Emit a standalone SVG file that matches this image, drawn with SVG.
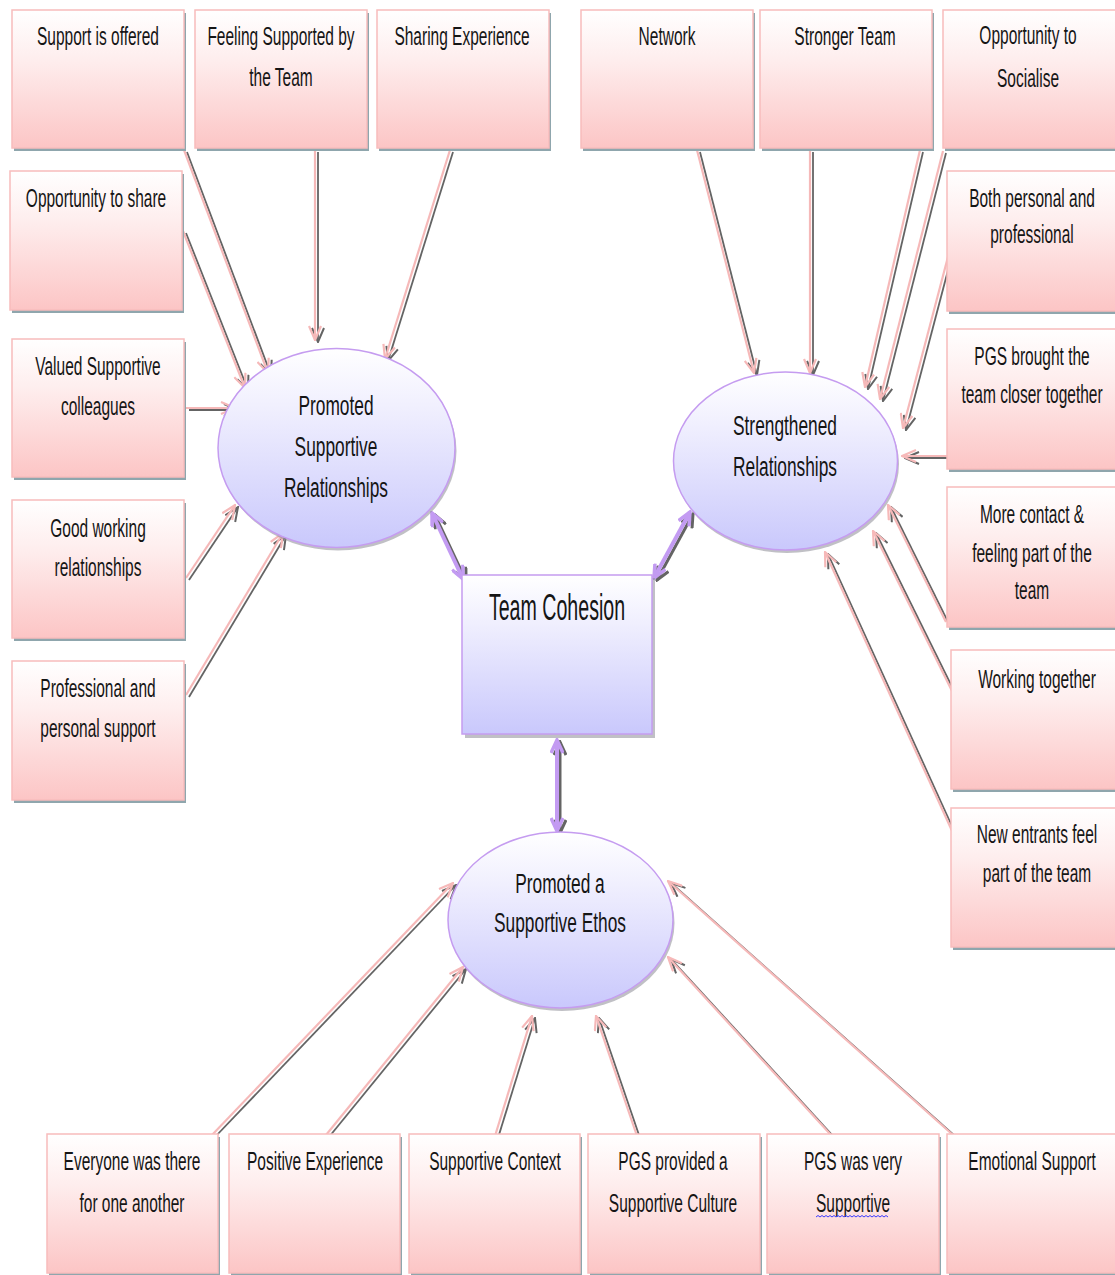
<svg xmlns="http://www.w3.org/2000/svg" width="1115" height="1275" viewBox="0 0 1115 1275">
  <defs>
    <linearGradient id="g-box" x1="0" y1="0" x2="0" y2="1">
      <stop offset="0" stop-color="#ffffff"/>
      <stop offset="0.35" stop-color="#feeeee"/>
      <stop offset="1" stop-color="#fcc5c5"/>
    </linearGradient>
    <linearGradient id="g-theme" x1="0" y1="0" x2="0" y2="1">
      <stop offset="0" stop-color="#ffffff"/>
      <stop offset="0.3" stop-color="#f0effe"/>
      <stop offset="1" stop-color="#c9c8fc"/>
    </linearGradient>
    <marker id="ah-pink" viewBox="0 0 16 14" refX="15" refY="7" markerWidth="16" markerHeight="14" markerUnits="userSpaceOnUse" orient="auto">
      <path d="M1,1 L15,7 L1,13" fill="none" stroke="#f6b9b9" stroke-width="2.2"/>
    </marker>
    <marker id="ah-grey" viewBox="0 0 16 14" refX="15" refY="7" markerWidth="16" markerHeight="14" markerUnits="userSpaceOnUse" orient="auto">
      <path d="M1,1 L15,7 L1,13" fill="none" stroke="#646464" stroke-width="2"/>
    </marker>
    <marker id="ah-purple" viewBox="0 0 16 14" refX="14" refY="7" markerWidth="16" markerHeight="14" markerUnits="userSpaceOnUse" orient="auto-start-reverse">
      <path d="M1,1 L14,7 L1,13" fill="none" stroke="#c39bf2" stroke-width="3.5"/>
    </marker>
    <marker id="ah-purple-grey" viewBox="0 0 16 14" refX="14" refY="7" markerWidth="16" markerHeight="14" markerUnits="userSpaceOnUse" orient="auto-start-reverse">
      <path d="M1,1 L14,7 L1,13" fill="none" stroke="#646464" stroke-width="3"/>
    </marker>
  </defs>
  <style>
    .box { fill: url(#g-box); stroke: #f8bcbc; stroke-width: 1.5; }
    .box-shadow { fill: #8fa6ad; }
    .theme { fill: url(#g-theme); stroke: #c59cf0; stroke-width: 1.5; }
    .theme-shadow { fill: #8d8d95; opacity: 0.55; }
    text { font-family: "Liberation Sans", Arial, sans-serif; fill: #151515; text-anchor: middle; }
    .t { font-size: 25px; }
    .te { font-size: 27.5px; }
    .tc { font-size: 37px; }
    .link { fill: none; stroke: #f6b9b9; stroke-width: 2.2; marker-end: url(#ah-pink); }
    .link-shadow { fill: none; stroke: #646464; stroke-width: 1.8; marker-end: url(#ah-grey); }
    .bi { fill: none; stroke: #c39bf2; stroke-width: 4; marker-start: url(#ah-purple); marker-end: url(#ah-purple); }
    .bi-shadow { fill: none; stroke: #646464; stroke-width: 3; marker-start: url(#ah-purple-grey); marker-end: url(#ah-purple-grey); }
  </style>

  <rect width="1115" height="1275" fill="#ffffff"/>

  <!-- arrows into the three themes and between themes and core -->
  <g id="connectors">
    <g transform="translate(3,2)">
      <path class="link-shadow" d="M184,150 L268,373"/>
      <path class="link-shadow" d="M183,231 L245,388"/>
      <path class="link-shadow" d="M315,150 L315,340"/>
      <path class="link-shadow" d="M450,150 L385,359"/>
      <path class="link-shadow" d="M186,408 L235,408"/>
      <path class="link-shadow" d="M186,578 L235,505"/>
      <path class="link-shadow" d="M186,695 L283,533"/>
      <path class="link-shadow" d="M697,150 L754,373"/>
      <path class="link-shadow" d="M810,150 L810,373"/>
      <path class="link-shadow" d="M920,150 L865,387"/>
      <path class="link-shadow" d="M943,151 L880,399"/>
      <path class="link-shadow" d="M949,253 L903,428"/>
      <path class="link-shadow" d="M948,456 L902,456"/>
      <path class="link-shadow" d="M946,622 L888,505"/>
      <path class="link-shadow" d="M953,693 L873,531"/>
      <path class="link-shadow" d="M953,833 L825,552"/>
      <path class="link-shadow" d="M212,1135 L453,883"/>
      <path class="link-shadow" d="M326,1135 L463,967"/>
      <path class="link-shadow" d="M495,1136 L532,1016"/>
      <path class="link-shadow" d="M637,1136 L596,1016"/>
      <path class="link-shadow" d="M831,1135 L668,957"/>
      <path class="link-shadow" d="M953,1135 L668,881"/>
      <path class="bi-shadow" d="M432,513 L463,579"/>
      <path class="bi-shadow" d="M690,512 L654,578"/>
      <path class="bi-shadow" d="M557,740 L557,831"/>
    </g>
    <g>
      <path class="link" d="M184,150 L268,373"/>
      <path class="link" d="M183,231 L245,388"/>
      <path class="link" d="M315,150 L315,340"/>
      <path class="link" d="M450,150 L385,359"/>
      <path class="link" d="M186,408 L235,408"/>
      <path class="link" d="M186,578 L235,505"/>
      <path class="link" d="M186,695 L283,533"/>
      <path class="link" d="M697,150 L754,373"/>
      <path class="link" d="M810,150 L810,373"/>
      <path class="link" d="M920,150 L865,387"/>
      <path class="link" d="M943,151 L880,399"/>
      <path class="link" d="M949,253 L903,428"/>
      <path class="link" d="M948,456 L902,456"/>
      <path class="link" d="M946,622 L888,505"/>
      <path class="link" d="M953,693 L873,531"/>
      <path class="link" d="M953,833 L825,552"/>
      <path class="link" d="M212,1135 L453,883"/>
      <path class="link" d="M326,1135 L463,967"/>
      <path class="link" d="M495,1136 L532,1016"/>
      <path class="link" d="M637,1136 L596,1016"/>
      <path class="link" d="M831,1135 L668,957"/>
      <path class="link" d="M953,1135 L668,881"/>
      <path class="bi" d="M432,513 L463,579"/>
      <path class="bi" d="M690,512 L654,578"/>
      <path class="bi" d="M557,740 L557,831"/>
    </g>
  </g>

  <!-- core -->
  <g id="team-cohesion">
    <rect class="theme-shadow" x="465" y="578" width="190" height="160"/>
    <rect class="theme" x="462" y="575" width="190" height="159"/>
    <text class="tc" transform="translate(557,620) scale(0.53,1)">Team Cohesion</text>
  </g>

  <!-- themes -->
  <g id="promoted-supportive-relationships">
    <ellipse class="theme-shadow" cx="338" cy="451" rx="118.5" ry="99.5"/>
    <ellipse class="theme" cx="336.5" cy="448" rx="118.5" ry="99.5"/>
    <text class="te" transform="translate(336,415) scale(0.63,1)">Promoted</text>
    <text class="te" transform="translate(336,456) scale(0.63,1)">Supportive</text>
    <text class="te" transform="translate(336,497) scale(0.63,1)">Relationships</text>
  </g>
  <g id="strengthened-relationships">
    <ellipse class="theme-shadow" cx="787" cy="464" rx="112" ry="89"/>
    <ellipse class="theme" cx="785.5" cy="461" rx="112" ry="89"/>
    <text class="te" transform="translate(785,435) scale(0.63,1)">Strengthened</text>
    <text class="te" transform="translate(785,476) scale(0.63,1)">Relationships</text>
  </g>
  <g id="promoted-supportive-ethos">
    <ellipse class="theme-shadow" cx="562" cy="923" rx="112.5" ry="88"/>
    <ellipse class="theme" cx="560.5" cy="920" rx="112.5" ry="88"/>
    <text class="te" transform="translate(560,893) scale(0.63,1)">Promoted a</text>
    <text class="te" transform="translate(560,932) scale(0.63,1)">Supportive Ethos</text>
  </g>

  <!-- codes: top row -->
  <g id="support-is-offered">
    <rect class="box-shadow" x="14" y="13" width="172" height="138"/>
    <rect class="box" x="12" y="10" width="172" height="138"/>
    <text class="t" transform="translate(98,45) scale(0.62,1)">Support is offered</text>
  </g>
  <g id="feeling-supported">
    <rect class="box-shadow" x="197" y="13" width="172" height="138"/>
    <rect class="box" x="195" y="10" width="172" height="138"/>
    <text class="t" transform="translate(281,45) scale(0.62,1)">Feeling Supported by</text>
    <text class="t" transform="translate(281,86) scale(0.62,1)">the Team</text>
  </g>
  <g id="sharing-experience">
    <rect class="box-shadow" x="379" y="13" width="172" height="138"/>
    <rect class="box" x="377" y="10" width="172" height="138"/>
    <text class="t" transform="translate(462,45) scale(0.62,1)">Sharing Experience</text>
  </g>
  <g id="network">
    <rect class="box-shadow" x="583" y="13" width="172" height="138"/>
    <rect class="box" x="581" y="10" width="172" height="138"/>
    <text class="t" transform="translate(667,45) scale(0.62,1)">Network</text>
  </g>
  <g id="stronger-team">
    <rect class="box-shadow" x="762" y="13" width="172" height="138"/>
    <rect class="box" x="760" y="10" width="172" height="138"/>
    <text class="t" transform="translate(845,45) scale(0.62,1)">Stronger Team</text>
  </g>
  <g id="opportunity-to-socialise">
    <rect class="box-shadow" x="945" y="13" width="175" height="138"/>
    <rect class="box" x="943" y="10" width="175" height="138"/>
    <text class="t" transform="translate(1028,44) scale(0.62,1)">Opportunity to</text>
    <text class="t" transform="translate(1028,87) scale(0.62,1)">Socialise</text>
  </g>

  <!-- codes: left column -->
  <g id="opportunity-to-share">
    <rect class="box-shadow" x="12" y="174" width="172" height="139"/>
    <rect class="box" x="10" y="171" width="172" height="139"/>
    <text class="t" transform="translate(96,207) scale(0.62,1)">Opportunity to share</text>
  </g>
  <g id="valued-supportive-colleagues">
    <rect class="box-shadow" x="14" y="342" width="172" height="138"/>
    <rect class="box" x="12" y="339" width="172" height="138"/>
    <text class="t" transform="translate(98,375) scale(0.62,1)">Valued Supportive</text>
    <text class="t" transform="translate(98,415) scale(0.62,1)">colleagues</text>
  </g>
  <g id="good-working-relationships">
    <rect class="box-shadow" x="14" y="503" width="172" height="138"/>
    <rect class="box" x="12" y="500" width="172" height="138"/>
    <text class="t" transform="translate(98,537) scale(0.62,1)">Good working</text>
    <text class="t" transform="translate(98,576) scale(0.62,1)">relationships</text>
  </g>
  <g id="professional-and-personal-support">
    <rect class="box-shadow" x="14" y="664" width="172" height="139"/>
    <rect class="box" x="12" y="661" width="172" height="139"/>
    <text class="t" transform="translate(98,697) scale(0.62,1)">Professional and</text>
    <text class="t" transform="translate(98,737) scale(0.62,1)">personal support</text>
  </g>

  <!-- codes: right column -->
  <g id="both-personal-and-professional">
    <rect class="box-shadow" x="949" y="174" width="172" height="140"/>
    <rect class="box" x="947" y="171" width="172" height="140"/>
    <text class="t" transform="translate(1032,207) scale(0.62,1)">Both personal and</text>
    <text class="t" transform="translate(1032,243) scale(0.62,1)">professional</text>
  </g>
  <g id="pgs-brought-team-closer">
    <rect class="box-shadow" x="949" y="332" width="172" height="140"/>
    <rect class="box" x="947" y="329" width="172" height="140"/>
    <text class="t" transform="translate(1032,365) scale(0.62,1)">PGS brought the</text>
    <text class="t" transform="translate(1032,403) scale(0.62,1)">team closer together</text>
  </g>
  <g id="more-contact">
    <rect class="box-shadow" x="949" y="490" width="172" height="140"/>
    <rect class="box" x="947" y="487" width="172" height="140"/>
    <text class="t" transform="translate(1032,523) scale(0.62,1)">More contact &amp;</text>
    <text class="t" transform="translate(1032,562) scale(0.62,1)">feeling part of the</text>
    <text class="t" transform="translate(1032,599) scale(0.62,1)">team</text>
  </g>
  <g id="working-together">
    <rect class="box-shadow" x="953" y="653" width="172" height="139"/>
    <rect class="box" x="951" y="650" width="172" height="139"/>
    <text class="t" transform="translate(1037,688) scale(0.62,1)">Working together</text>
  </g>
  <g id="new-entrants">
    <rect class="box-shadow" x="953" y="811" width="172" height="139"/>
    <rect class="box" x="951" y="808" width="172" height="139"/>
    <text class="t" transform="translate(1037,843) scale(0.62,1)">New entrants feel</text>
    <text class="t" transform="translate(1037,882) scale(0.62,1)">part of the team</text>
  </g>

  <!-- codes: bottom row -->
  <g id="everyone-was-there">
    <rect class="box-shadow" x="49" y="1137" width="171" height="139"/>
    <rect class="box" x="47" y="1134" width="171" height="139"/>
    <text class="t" transform="translate(132,1170) scale(0.62,1)">Everyone was there</text>
    <text class="t" transform="translate(132,1212) scale(0.62,1)">for one another</text>
  </g>
  <g id="positive-experience">
    <rect class="box-shadow" x="231" y="1137" width="171" height="139"/>
    <rect class="box" x="229" y="1134" width="171" height="139"/>
    <text class="t" transform="translate(315,1170) scale(0.62,1)">Positive Experience</text>
  </g>
  <g id="supportive-context">
    <rect class="box-shadow" x="411" y="1137" width="171" height="139"/>
    <rect class="box" x="409" y="1134" width="171" height="139"/>
    <text class="t" transform="translate(495,1170) scale(0.62,1)">Supportive Context</text>
  </g>
  <g id="supportive-culture">
    <rect class="box-shadow" x="590" y="1137" width="172" height="139"/>
    <rect class="box" x="588" y="1134" width="172" height="139"/>
    <text class="t" transform="translate(673,1170) scale(0.62,1)">PGS provided a</text>
    <text class="t" transform="translate(673,1212) scale(0.62,1)">Supportive Culture</text>
  </g>
  <g id="pgs-very-supportive">
    <rect class="box-shadow" x="769" y="1137" width="172" height="139"/>
    <rect class="box" x="767" y="1134" width="172" height="139"/>
    <text class="t" transform="translate(853,1170) scale(0.62,1)">PGS was very</text>
    <text class="t" transform="translate(853,1212) scale(0.62,1)">Supportive</text>
    <!-- spell-check squiggle under the second line -->
    <path d="M816,1217 l2,-1.5 l2,1.5 l2,-1.5 l2,1.5 l2,-1.5 l2,1.5 l2,-1.5 l2,1.5 l2,-1.5 l2,1.5 l2,-1.5 l2,1.5 l2,-1.5 l2,1.5 l2,-1.5 l2,1.5 l2,-1.5 l2,1.5 l2,-1.5 l2,1.5 l2,-1.5 l2,1.5 l2,-1.5 l2,1.5 l2,-1.5 l2,1.5 l2,-1.5 l2,1.5 l2,-1.5 l2,1.5 l2,-1.5 l2,1.5 l2,-1.5 l2,1.5 l2,-1.5 l2,1.5" fill="none" stroke="#3a3aff" stroke-width="1"/>
  </g>
  <g id="emotional-support">
    <rect class="box-shadow" x="949" y="1137" width="172" height="139"/>
    <rect class="box" x="947" y="1134" width="172" height="139"/>
    <text class="t" transform="translate(1032,1170) scale(0.62,1)">Emotional Support</text>
  </g>
</svg>
